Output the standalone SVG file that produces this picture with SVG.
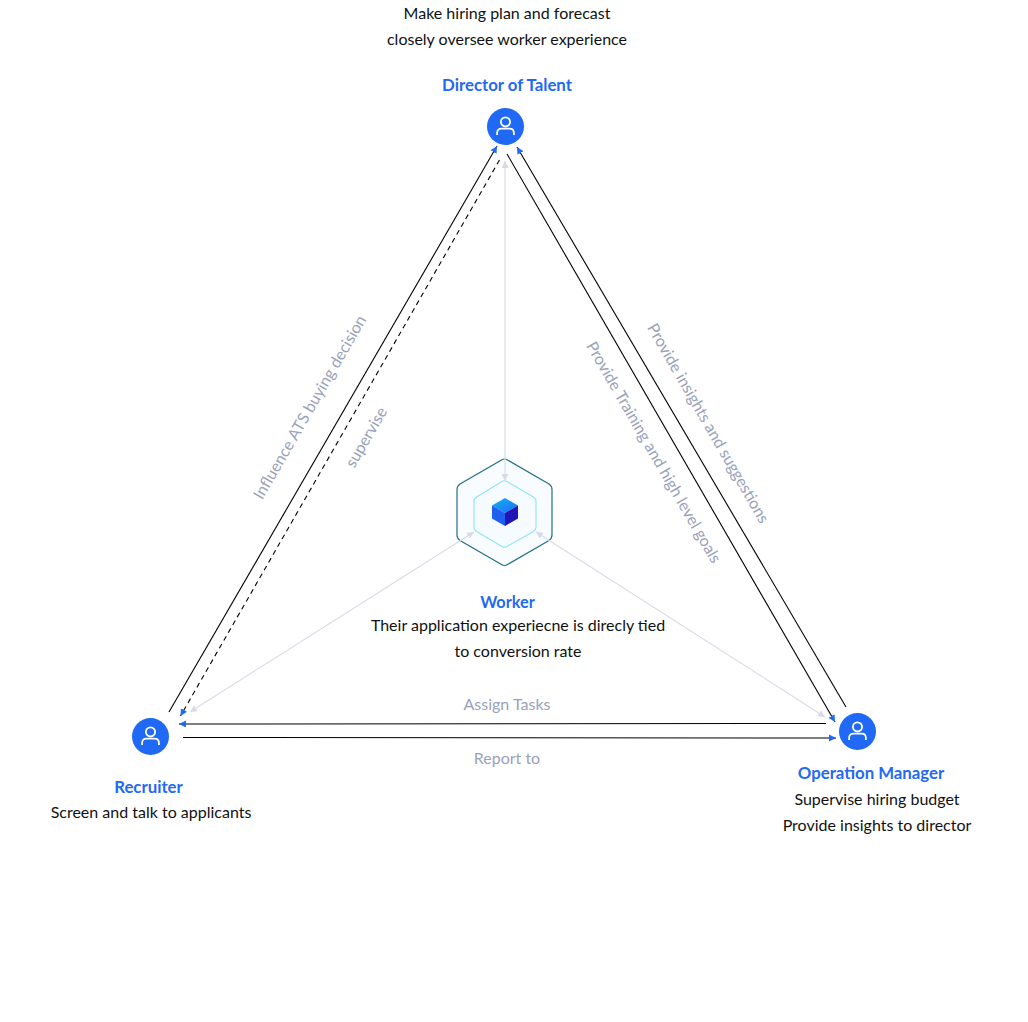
<svg xmlns="http://www.w3.org/2000/svg" width="1028" height="1022" viewBox="0 0 1028 1022">
<style>
text{font-family:Lato,"Liberation Sans",sans-serif;font-size:16px;text-anchor:middle;fill:#111}
.t{font-weight:700;font-size:16.800px;fill:#1f69f5}
.g{fill:#9aa1ba}
.k{fill:none;stroke:#000;stroke-width:1.100}
.l{fill:none;stroke:#d8dbe6;stroke-width:1.100}
.b{fill:#1f69f5}
.u{fill:none;stroke:#fff;stroke-width:1.800}
</style>
<defs>
<marker id="ab" markerUnits="userSpaceOnUse" markerWidth="8" markerHeight="8" refX="7" refY="3.500" orient="auto"><path d="M0 0L7 3.500L0 7Z" fill="#1f69f5"/></marker>
<marker id="al" markerUnits="userSpaceOnUse" markerWidth="8" markerHeight="8" refX="7" refY="3.500" orient="auto-start-reverse"><path d="M0 0L7 3.500L0 7Z" fill="#d8dbe6"/></marker>
<linearGradient id="cube" x1="0" y1="0" x2="1" y2="1"><stop offset="0" stop-color="#12b4f5"/><stop offset="1" stop-color="#1f69f5"/></linearGradient>
<g id="user"><circle r="18.500" class="b"/><circle cy="-4.600" r="4.600" class="u"/><path class="u" d="M-8.400 8.500V6.500Q-8.400 2.200 -4 2.200H4Q8.400 2.200 8.400 6.500V8.500"/></g>
</defs>
<g id="edge-labels">
<text class="g" transform="translate(314.500 410) rotate(-60)">Influence ATS buying decision</text>
<text class="g" transform="translate(371 440) rotate(-60)">supervise</text>
<text class="g" transform="translate(649 455) rotate(60)">Provide Training and high level goals</text>
<text class="g" transform="translate(703.500 426) rotate(60)">Provide insights and suggestions</text>
<text class="g" x="507" y="710">Assign Tasks</text>
<text class="g" x="507" y="764">Report to</text>
</g>
<g id="director">
<text x="507" y="19">Make hiring plan and forecast</text>
<text x="507" y="45">closely oversee worker experience</text>
<text class="t" x="507" y="90.500">Director of Talent</text>
<use href="#user" x="505.500" y="126.500"/>
</g>
<g id="recruiter">
<use href="#user" x="150.500" y="736.500"/>
<text class="t" x="148.500" y="792.500">Recruiter</text>
<text x="151" y="818">Screen and talk to applicants</text>
</g>
<g id="manager">
<use href="#user" x="857.500" y="731.500"/>
<text class="t" x="871" y="778.500">Operation Manager</text>
<text x="877" y="805">Supervise hiring budget</text>
<text x="877" y="831">Provide insights to director</text>
</g>
<g id="worker">
<path d="M501.500 460Q504.500 458 507.500 460L549 484Q552 486 552 489.500V535Q552 538.500 549 540.500L507.500 564.500Q504.500 566.500 501.500 564.500L460 540.500Q457 538.500 457 535V489.500Q457 486 460 484Z" fill="#f9fcff" stroke="#1f7088" stroke-width="1.200"/>
<path d="M502 481.500Q504.500 480 507 481.500L533.500 497Q536 498.500 536 501.500V527Q536 530 533.500 531.500L507 546.500Q504.500 548 502 546.500L476.500 531.500Q474 530 474 527V501.500Q474 498.500 476.500 497Z" fill="#f6fbff" stroke="#8fe3fb" stroke-width="1.100"/>
<path d="M505 498L518 505.500L505 513L492 505.500Z" fill="url(#cube)"/>
<path d="M492 505.500L505 513V526L492 518.500Z" fill="#1f5ff0"/>
<path d="M518 505.500L505 513V526L518 518.500Z" fill="#2016b5"/>
<text class="t" x="507.500" y="607.500" style="font-size:16.300px">Worker</text>
<text x="518" y="631">Their application experiecne is direcly tied</text>
<text x="518" y="657">to conversion rate</text>
</g>
<g id="connectors">
<path class="l" marker-start="url(#al)" marker-end="url(#al)" d="M505 161V481"/>
<path class="l" marker-start="url(#al)" marker-end="url(#al)" d="M190 712L474 532"/>
<path class="l" marker-start="url(#al)" marker-end="url(#al)" d="M825 717L536 532"/>
<path class="k" marker-end="url(#ab)" d="M169 712L497 146"/>
<path class="k" stroke-dasharray="5 4" marker-end="url(#ab)" d="M499.500 160L180.500 716"/>
<path class="k" marker-end="url(#ab)" d="M507 154L835 722"/>
<path class="k" marker-end="url(#ab)" d="M846 707L517 147"/>
<path class="k" marker-end="url(#ab)" d="M826 723.500L179 724"/>
<path class="k" marker-end="url(#ab)" d="M183 737.500L836 738"/>
</g>
</svg>
